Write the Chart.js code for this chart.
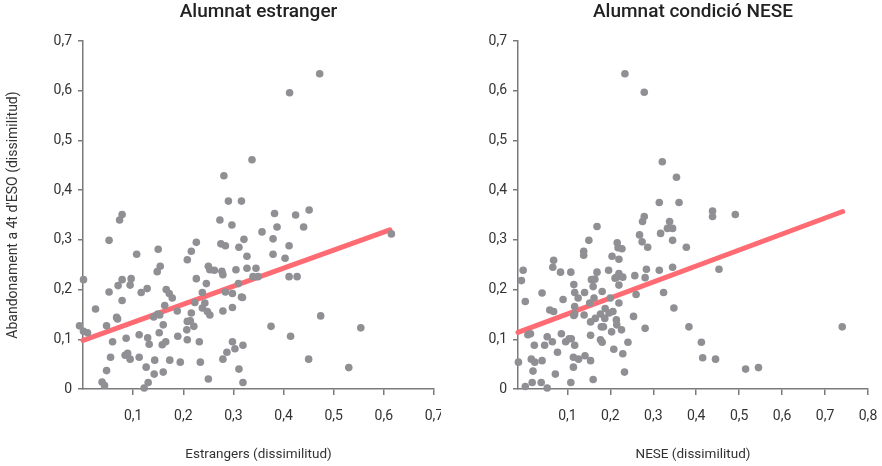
<!DOCTYPE html>
<html>
<head>
<meta charset="utf-8">
<script src="https://cdn.jsdelivr.net/npm/chart.js@4.4.1/dist/chart.umd.min.js"></script>
<style>
  body { margin: 0; background: #fff; }
  .panel { position: absolute; top: 0; width: 441px; height: 466px; }
</style>
</head>
<body>
<div class="panel" style="left:0"><canvas id="leftChart" width="441" height="466"></canvas></div>
<div class="panel" style="left:441px"><canvas id="rightChart" width="441" height="466"></canvas></div>
<script>
// Alumnat estranger: x = estrangers (dissimilitud), y = abandonament 4t ESO
const foreignX = [
  -0.007, 0.001, 0.001, 0.009, 0.025, 0.038, 0.043, 0.047, 0.047, 0.052,
  0.052, 0.055, 0.059, 0.067, 0.069, 0.073, 0.078, 0.070, 0.078, 0.078,
  0.084, 0.086, 0.089, 0.094, 0.094, 0.096, 0.107, 0.112, 0.112, 0.116,
  0.128, 0.126, 0.129, 0.132, 0.130, 0.122, 0.141, 0.143, 0.142, 0.148,
  0.154, 0.150, 0.149, 0.153, 0.152, 0.160, 0.163, 0.158, 0.165, 0.160,
  0.166, 0.172, 0.178, 0.173, 0.188, 0.189, 0.194, 0.208, 0.216, 0.226,
  0.208, 0.214, 0.216, 0.207, 0.221, 0.208, 0.226, 0.223, 0.232, 0.234,
  0.238, 0.243, 0.238, 0.246, 0.248, 0.253, 0.250, 0.250, 0.253, 0.262,
  0.273, 0.281, 0.277, 0.279, 0.275, 0.284, 0.290, 0.297, 0.305, 0.311,
  0.316, 0.321, 0.327, 0.327, 0.337, 0.345, 0.339, 0.349, 0.310, 0.298,
  0.316, 0.318, 0.284, 0.279, 0.298, 0.298, 0.303, 0.287, 0.279, 0.311,
  0.319, 0.319, 0.357, 0.412, 0.472, 0.382, 0.424, 0.451, 0.387, 0.440,
  0.379, 0.411, 0.379, 0.403, 0.411, 0.427, 0.615, 0.474, 0.375, 0.554,
  0.414, 0.450, 0.530
];
const foreignY = [
  0.127, 0.220, 0.116, 0.113, 0.161, 0.014, 0.007, 0.037, 0.127, 0.299,
  0.195, 0.064, 0.095, 0.144, 0.141, 0.340, 0.351, 0.208, 0.220, 0.178,
  0.068, 0.102, 0.072, 0.060, 0.209, 0.222, 0.271, 0.109, 0.064, 0.194,
  0.202, 0.044, 0.103, 0.090, 0.013, 0.002, 0.145, 0.058, 0.030, 0.236,
  0.247, 0.281, 0.151, 0.149, 0.113, 0.129, 0.168, 0.089, 0.095, 0.034,
  0.200, 0.192, 0.183, 0.058, 0.157, 0.106, 0.054, 0.260, 0.277, 0.295,
  0.136, 0.137, 0.153, 0.119, 0.126, 0.099, 0.222, 0.174, 0.095, 0.054,
  0.194, 0.173, 0.163, 0.212, 0.156, 0.149, 0.020, 0.247, 0.240, 0.239,
  0.340, 0.429, 0.237, 0.230, 0.292, 0.288, 0.378, 0.330, 0.240, 0.285,
  0.378, 0.301, 0.267, 0.243, 0.461, 0.243, 0.226, 0.226, 0.212, 0.192,
  0.185, 0.184, 0.195, 0.157, 0.164, 0.095, 0.081, 0.074, 0.060, 0.040,
  0.088, 0.013, 0.316, 0.596, 0.634, 0.353, 0.350, 0.360, 0.326, 0.326,
  0.302, 0.288, 0.271, 0.263, 0.226, 0.226, 0.312, 0.147, 0.126, 0.123,
  0.106, 0.060, 0.043
];

// Alumnat condició NESE: x = NESE (dissimilitud)
const neseX = [
  -0.003, -0.007, -0.014, 0.002, 0.002, 0.008, 0.014, 0.018, 0.016, 0.023,
  0.024, 0.020, 0.039, 0.041, 0.041, 0.053, 0.047, 0.053, 0.059, 0.068,
  0.065, 0.068, 0.066, 0.072, 0.077, 0.084, 0.086, 0.090, 0.096, 0.104,
  0.108, 0.108, 0.109, 0.114, 0.114, 0.117, 0.115, 0.117, 0.125, 0.117,
  0.117, 0.115, 0.126, 0.138, 0.138, 0.140, 0.139, 0.141, 0.150, 0.152,
  0.154, 0.154, 0.154, 0.160, 0.156, 0.160, 0.164, 0.162, 0.169, 0.169,
  0.165, 0.177, 0.179, 0.184, 0.177, 0.181, 0.181, 0.188, 0.187, 0.196,
  0.200, 0.197, 0.203, 0.206, 0.204, 0.208, 0.211, 0.216, 0.218, 0.227,
  0.220, 0.215, 0.220, 0.229, 0.220, 0.220, 0.214, 0.215, 0.226, 0.229,
  0.233, 0.234, 0.241, 0.254, 0.257, 0.260, 0.268, 0.274, 0.287, 0.275,
  0.279, 0.279, 0.281, 0.284, 0.281, 0.314, 0.317, 0.321, 0.314, 0.324,
  0.338, 0.333, 0.345, 0.345, 0.345, 0.348, 0.354, 0.360, 0.377, 0.383,
  0.438, 0.438, 0.491, 0.453, 0.412, 0.415, 0.445, 0.515, 0.545, 0.740
];
const neseY = [
  0.239, 0.218, 0.054, 0.176, 0.005, 0.109, 0.111, 0.013, 0.060, 0.088,
  0.054, 0.036, 0.013, 0.057, 0.193, 0.002, 0.088, 0.105, 0.159, 0.156,
  0.095, 0.259, 0.245, 0.030, 0.074, 0.235, 0.111, 0.180, 0.095, 0.101,
  0.235, 0.013, 0.101, 0.044, 0.064, 0.088, 0.210, 0.194, 0.183, 0.166,
  0.151, 0.148, 0.060, 0.277, 0.269, 0.194, 0.149, 0.067, 0.299, 0.173,
  0.135, 0.108, 0.057, 0.019, 0.220, 0.206, 0.221, 0.183, 0.327, 0.235,
  0.142, 0.151, 0.125, 0.125, 0.099, 0.094, 0.196, 0.162, 0.142, 0.239,
  0.183, 0.153, 0.115, 0.156, 0.267, 0.080, 0.223, 0.294, 0.284, 0.282,
  0.261, 0.225, 0.232, 0.225, 0.209, 0.173, 0.139, 0.129, 0.119, 0.071,
  0.034, 0.634, 0.094, 0.146, 0.228, 0.190, 0.310, 0.296, 0.285, 0.337,
  0.347, 0.597, 0.224, 0.241, 0.122, 0.375, 0.313, 0.457, 0.239, 0.194,
  0.337, 0.323, 0.323, 0.299, 0.245, 0.163, 0.426, 0.375, 0.285, 0.125,
  0.358, 0.347, 0.351, 0.241, 0.094, 0.063, 0.060, 0.040, 0.043, 0.125
];

// regression lines (start / end)
const foreignTrendX = [0, 0.612];
const foreignTrendY = [0.098, 0.320];
const neseTrendX = [-0.015, 0.741];
const neseTrendY = [0.114, 0.357];

const yTicks = [0, 0.1, 0.2, 0.3, 0.4, 0.5, 0.6, 0.7];
const foreignXTicks = [0.1, 0.2, 0.3, 0.4, 0.5, 0.6, 0.7];
const neseXTicks = [0.1, 0.2, 0.3, 0.4, 0.5, 0.6, 0.7, 0.8];

const FONT = "Roboto, 'Open Sans', sans-serif";

function toPoints(xs, ys) {
  return xs.map((x, i) => ({ x: x, y: ys[i] }));
}

function fmt(v) {
  return v === 0 ? "0" : v.toFixed(1).replace(".", ",");
}

function renderScatter(canvasId, cfg) {
  const ctx = document.getElementById(canvasId).getContext("2d");
  new Chart(ctx, {
    type: "scatter",
    data: {
      datasets: [{
        data: toPoints(cfg.xs, cfg.ys),
        backgroundColor: "#8f8f94",
        borderWidth: 0,
        pointRadius: 3.8,
        pointHoverRadius: 3.8,
        clip: false,
        order: 0
      }, {
        data: toPoints(cfg.trendX, cfg.trendY),
        showLine: true,
        borderColor: "#ff6b73",
        borderWidth: 5,
        borderCapStyle: "round",
        pointRadius: 0,
        clip: false,
        order: 1
      }]
    },
    options: {
      responsive: false,
      animation: false,
      events: [],
      layout: { padding: { right: cfg.padRight } },
      plugins: {
        legend: { display: false },
        tooltip: { enabled: false },
        title: {
          display: true,
          text: cfg.title,
          fullSize: false,
          color: "#222",
          font: { family: FONT, size: 19, weight: "500" },
          padding: { top: 1, bottom: 17.2 }
        }
      },
      scales: {
        x: {
          type: "linear",
          min: cfg.xMin,
          max: cfg.xMax,
          afterBuildTicks: s => { s.ticks = cfg.xTicks.map(v => ({ value: v })); },
          afterFit: s => { s.height = 77; s.paddingLeft = 0; s.paddingRight = 0; },
          grid: { drawOnChartArea: false, drawTicks: true, tickLength: 6, color: "#7a7a7a", lineWidth: 1.5 },
          border: { color: "#7a7a7a", width: 1.5 },
          ticks: { color: "#333", padding: 13, font: { family: FONT, size: 14 }, callback: v => fmt(v) },
          title: {
            display: true,
            text: cfg.xTitle,
            color: "#333",
            font: { family: FONT, size: 13.5 },
            padding: { top: 3, bottom: 3 }
          }
        },
        y: {
          type: "linear",
          min: 0,
          max: 0.7,
          afterBuildTicks: s => { s.ticks = yTicks.map(v => ({ value: v })); },
          afterFit: s => { s.width = cfg.yWidth; s.paddingTop = 0; s.paddingBottom = 0; },
          grid: { drawOnChartArea: false, drawTicks: true, tickLength: 5, color: "#7a7a7a", lineWidth: 1.5 },
          border: { color: "#7a7a7a", width: 1.5 },
          ticks: { color: "#333", padding: 6, font: { family: FONT, size: 14 }, callback: v => fmt(v) },
          title: {
            display: !!cfg.yTitle,
            text: cfg.yTitle || "",
            color: "#333",
            font: { family: FONT, size: 14 },
            padding: { top: 5, bottom: 0 }
          }
        }
      }
    }
  });
}

renderScatter("leftChart", {
  title: "Alumnat estranger",
  xTitle: "Estrangers (dissimilitud)",
  yTitle: "Abandonament a 4t d'ESO (dissimilitud)",
  xs: foreignX, ys: foreignY,
  trendX: foreignTrendX, trendY: foreignTrendY,
  xMin: 0, xMax: 0.7, xTicks: foreignXTicks,
  yWidth: 83, padRight: 7
});

renderScatter("rightChart", {
  title: "Alumnat condició NESE",
  xTitle: "NESE (dissimilitud)",
  yTitle: null,
  xs: neseX, ys: neseY,
  trendX: neseTrendX, trendY: neseTrendY,
  xMin: -0.015, xMax: 0.8, xTicks: neseXTicks,
  yWidth: 77, padRight: 14
});
</script>
</body>
</html>
